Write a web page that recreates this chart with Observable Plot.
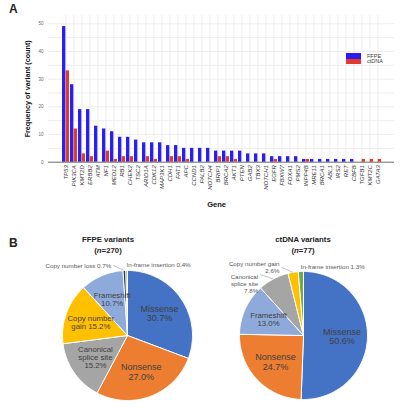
<!DOCTYPE html>
<html><head><meta charset="utf-8">
<script src="https://cdn.jsdelivr.net/npm/d3@7"></script>
<script src="https://cdn.jsdelivr.net/npm/@observablehq/plot@0.6"></script>
<style>
html,body{margin:0;padding:0;background:#fff;}
body{font-family:"Liberation Sans",Arial,sans-serif;}
#root{position:relative;width:409px;height:412px;overflow:hidden;background:#fff;}
.abs{position:absolute;white-space:nowrap;line-height:1;}
.c{transform:translate(-50%,-50%);text-align:center;}
svg{display:block;}
</style></head><body><div id="root"></div>
<script>
// ---------- Panel A data ----------
const genes = ["TP53","PIK3CA","KMT2D","ERBB2","ATM","NF1","MED12","RB1","CHEK2","TSC2","ARID1A","CDK12","MAP3K1","CDH1","FAT1","APC","CCND1","PALB2","NOTCH4","BRIP1","BRCA2","AKT1","PTEN","GAB2","TBX3","NOTCH1","EGFR","FBXW7","FOXA1","PMS2","INPP4B","MRE11","BRCA1","ABL1","IRS2","RET","CBFB","TGFB1","KMT2C","GATA3"];
const ffpeCounts  = [49,28,19,19,13,12,11,9,9,8,7,7,7,6,6,5,5,5,5,4,4,4,4,3,3,3,2,2,2,2,1,1,1,1,1,1,1,0,0,0];
const ctdnaCounts = [33,12,3,2,0,4,1,2,2,0,2,1,0,2,2,1,0,0,0,2,2,1,0,0,0,0,1,0,0,0,1,0,0,0,0,0,0,1,1,1];
const yTicks = [0,10,20,30,40,50];
const seriesNames = ["FFPE","ctDNA"];
const seriesColors = ["#2b1ff0","#e23b2e"];

// ---------- Panel B data ----------
const ffpeTypes  = ["Missense","Nonsense","Canonical splice site","Copy number gain","Frameshift","Copy number loss","In-frame insertion"];
const ffpePct    = [30.7,27.0,15.2,15.2,10.7,0.7,0.4];
const ffpeLabels = ["Missense\n30.7%","Nonsense\n27.0%","Canonical\nsplice site\n15.2%","Copy number\ngain 15.2%","Frameshift\n10.7%","Copy number loss 0.7%","In-frame insertion 0.4%"];
const ctdnaTypes  = ["Missense","Nonsense","Frameshift","Canonical splice site","Copy number gain","In-frame insertion"];
const ctdnaPct    = [50.6,24.7,13.0,7.8,2.6,1.3];
const ctdnaLabels = ["Missense\n50.6%","Nonsense\n24.7%","Frameshift\n13.0%","Canonical\nsplice site\n7.8%","Copy number gain\n2.6%","In-frame insertion 1.3%"];
const typeDomain = ["Missense","Nonsense","Canonical splice site","Copy number gain","Frameshift","Copy number loss","In-frame insertion"];
const typeColors = ["#4472c4","#ed7d31","#a5a5a5","#ffc000","#8eaadb","#1f3864","#70ad47"];

const FONT = "Liberation Sans, Arial, sans-serif";
const root = document.getElementById("root");
function place(el, left, top){ el.style.position="absolute"; el.style.left=left+"px"; el.style.top=top+"px"; root.appendChild(el); return el; }
function html(text, left, top, css, cls){ const d=document.createElement("div"); d.className="abs "+(cls||""); d.innerHTML=text; d.style.cssText += css||""; return place(d,left,top); }

// ---------- Panel A ----------
const W = 409, HA = 215, mL = 48, mR = 15, mT = 15, mB = HA - 161.7;
const pad = 0.15;
const bw = d3.scaleBand().domain(genes).range([mL, W - mR]).padding(pad).bandwidth();
const barData = genes.flatMap((g,i)=>[
  {gene:g, series:seriesNames[0], count:ffpeCounts[i]},
  {gene:g, series:seriesNames[1], count:ctdnaCounts[i]}
]).filter(d=>d.count>0);

const chartA = Plot.plot({
  width: W, height: HA, marginLeft: mL, marginRight: mR, marginTop: mT, marginBottom: mB,
  style: {fontFamily: FONT, background: "transparent", overflow: "visible"},
  x: {type: "band", domain: genes, padding: pad, label: null},
  y: {domain: [0, 53], label: null},
  marks: [
    Plot.gridY(d3.range(5, 53, 5), {stroke: "#ededed", strokeOpacity: 1}),
    Plot.gridX(genes, {stroke: "#ededed", strokeOpacity: 1}),
    Plot.barY(barData.filter(d=>d.series===seriesNames[0]), {x:"gene", y:"count", fill: seriesColors[0], insetLeft: 0, insetRight: bw/2}),
    Plot.barY(barData.filter(d=>d.series===seriesNames[1]), {x:"gene", y:"count", fill: seriesColors[1], insetLeft: bw/2, insetRight: 0}),
    Plot.ruleY([0], {stroke: "#444", strokeWidth: 0.8}),
    Plot.axisY(yTicks, {tickSize: 0, tickPadding: 5, fontSize: 4.5, fill: "#666", label: null}),
    Plot.axisX({tickSize: 0, tickRotate: -90, tickPadding: 3, fontSize: 6, fontStyle: "italic", fill: "#333", label: null}),
    Plot.text(["Frequency of variant (count)"], {frameAnchor: "left", textAnchor: "middle", rotate: -90, dx: -21, fontWeight: "bold", fontSize: 7.2, fill: "#111"}),
    Plot.text(["Gene"], {frameAnchor: "bottom", dy: 45, dx: -5, fontWeight: "bold", fontSize: 7.5, fill: "#111"})
  ]
});
place(chartA, 0, 0);

// legend
seriesNames.forEach((s,i)=>{
  const sw = document.createElement("div");
  sw.style.cssText = `width:15px;height:5.5px;background:${seriesColors[i]};`;
  place(sw, 346, 53 + i*5.5);
  html(s, 367, 53.5 + i*5.6, "font-size:5.5px;color:#444;");
});

html("A", 9, 3, "font-size:12px;font-weight:bold;color:#222;");
html("B", 9, 237, "font-size:12px;font-weight:bold;color:#222;");

// ---------- Panel B ----------
function pie(types, pct, labels, box){
  const {w, h, cx, cy, r} = box;
  const total = d3.sum(pct);
  let cum = 0;
  const slices = types.map((t,i)=>{ const a0 = cum/total*2*Math.PI; cum += pct[i]; const a1 = cum/total*2*Math.PI; return {i, type:t, pct:pct[i], label:labels[i], a0, a1, mid:(a0+a1)/2}; });
  const pts = [];
  for (const s of slices){
    pts.push({type:s.type, x:0, y:0});
    const n = Math.max(2, Math.ceil((s.a1-s.a0)/(Math.PI/180)));
    for (let k=0;k<=n;k++){ const t = s.a0 + (s.a1-s.a0)*k/n; pts.push({type:s.type, x:Math.sin(t), y:Math.cos(t)}); }
    pts.push({type:s.type, x:0, y:0});
  }
  const inside = slices.filter(s=>s.pct>=9).map(s=>({...s, x:0.6*Math.sin(s.mid), y:0.6*Math.cos(s.mid), size: s.pct>=20 ? 9 : 7.8}));
  // small slices: labels outside; the last slice's label goes right, the others go left
  const outside = slices.filter(s=>s.pct<9).map(s=>{
    const left = s.i < slices.length - 1;
    const ax = 1.08*Math.sin(s.mid) + (left ? -0.2 : 0);
    const ay = 1.08*Math.cos(s.mid);
    const hang = left && s.mid < 340*Math.PI/180;
    return {...s, left, hang, x:ax, y:ay, x0:Math.sin(s.mid), y0:Math.cos(s.mid)};
  });
  const outText = {fontSize:6.2, fill:"#595959", lineHeight:1.1, x:"x", y:"y", text:"label"};
  return Plot.plot({
    width: w, height: h, margin: 0,
    style: {fontFamily: FONT, background: "transparent", overflow: "visible"},
    x: {domain: [-cx/r, (w-cx)/r], axis: null},
    y: {domain: [-(h-cy)/r, cy/r], axis: null},
    color: {domain: typeDomain, range: typeColors},
    marks: [
      Plot.line(pts, {x:"x", y:"y", z:"type", fill:"type", stroke:"white", strokeWidth:1, strokeLinejoin:"round"}),
      Plot.link(outside.filter(d=>d.left), {x1:"x0", y1:"y0", x2:d=>d.x+0.03, y2:"y", stroke:"#9a9a9a", strokeWidth:0.6}),
      Plot.text(inside, {x:"x", y:"y", text:"label", fontSize:"size", fill:"#404040", lineHeight:1.05}),
      Plot.text(outside.filter(d=>d.left && d.hang), {...outText, textAnchor:"end", lineAnchor:"top"}),
      Plot.text(outside.filter(d=>d.left && !d.hang), {...outText, textAnchor:"end", lineAnchor:"middle"}),
      Plot.text(outside.filter(d=>!d.left), {...outText, textAnchor:"start", lineAnchor:"middle"})
    ]
  });
}
place(pie(ffpeTypes, ffpePct, ffpeLabels, {w:205, h:187, cx:127, cy:110, r:65}), 0, 225);
place(pie(ctdnaTypes, ctdnaPct, ctdnaLabels, {w:205, h:187, cx:99, cy:110, r:64}), 204, 225);

html("FFPE variants", 108, 240, "font-size:7.8px;font-weight:bold;color:#222;", "c");
html("(<i>n</i>=270)", 108, 250.5, "font-size:7.8px;font-weight:bold;color:#222;", "c");
html("ctDNA variants", 303, 240, "font-size:7.8px;font-weight:bold;color:#222;", "c");
html("(<i>n</i>=77)", 303, 250.5, "font-size:7.8px;font-weight:bold;color:#222;", "c");
</script></body></html>
